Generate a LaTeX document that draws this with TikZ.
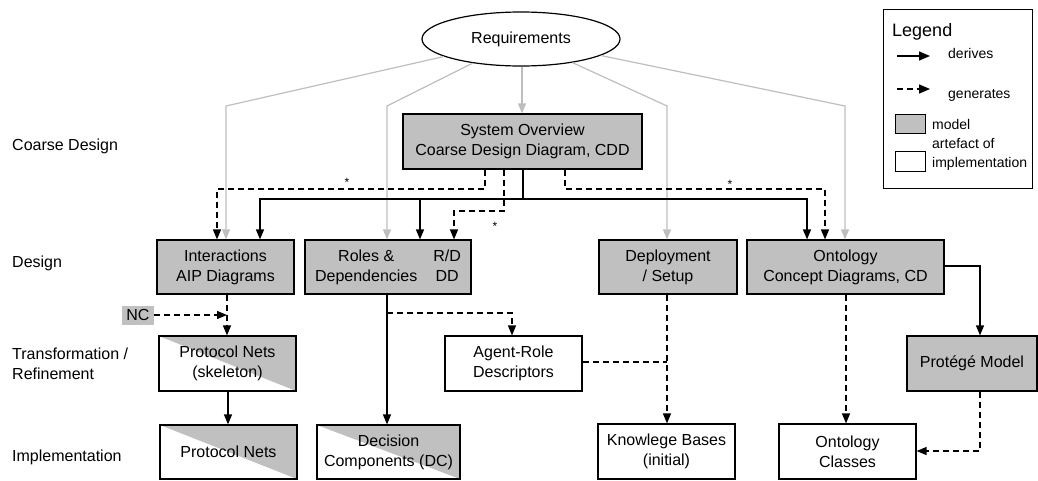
\documentclass[tikz,border=0pt]{standalone}
\usepackage{fontspec}
\setmainfont{Liberation Sans}
\usetikzlibrary{arrows.meta,shapes.geometric}
\definecolor{boxgrey}{RGB}{192,192,192}
\definecolor{linegrey}{RGB}{190,190,190}

\begin{document}
\begin{tikzpicture}[x=1pt,y=-1pt,
  every node/.style={font=\fontsize{16}{20}\selectfont, inner sep=0pt},
  box/.style={draw, line width=1.2pt, align=center},
  model/.style={box, fill=boxgrey},
  artefact/.style={box, fill=white},
  halfbox/.style={box, fill=white,
    path picture={\fill[boxgrey] (path picture bounding box.north west)
      -- (path picture bounding box.north east)
      -- (path picture bounding box.south east) -- cycle;}},
  derive/.style={-{Triangle[width=8pt,length=10pt]}, line width=1.3pt},
  gen/.style={derive, dash pattern=on 6pt off 4pt},
  reqline/.style={-{Triangle[width=8pt,length=10pt]}, line width=1.2pt, draw=linegrey},
  rowlabel/.style={anchor=west, align=left},
  star/.style={font=\fontsize{12}{14}\selectfont},
  legtext/.style={anchor=west, align=left, font=\fontsize{14}{19}\selectfont}
]
\useasboundingbox (0,0) rectangle (1038,480);

% phase labels on the left
\node[rowlabel] (lcoarse) at (12,146) {Coarse Design};
\node[rowlabel] (ldesign) at (12,263) {Design};
\node[rowlabel] (ltrans) at (12,364) {Transformation /\\Refinement};
\node[rowlabel] (limpl) at (12,457) {Implementation};

% requirements and coarse design
\node[draw, line width=1.2pt, ellipse, fill=white, minimum width=198, minimum height=54] (req) at (521,39) {Requirements};
\node[model, minimum width=239, minimum height=55] (sys) at (522.5,141.5) {System Overview\\Coarse Design Diagram, CDD};

% design models
\node[model, minimum width=137, minimum height=54] (inter) at (225.5,267) {Interactions\\AIP Diagrams};
\node[model, minimum width=166, minimum height=54] (roles) at (388,267)
  {\begin{tabular}{@{}c@{\hspace{16pt}}c@{}}Roles \& & R/D\\ Dependencies & DD\end{tabular}};
\node[model, minimum width=138, minimum height=54] (deploy) at (668,267) {Deployment\\/ Setup};
\node[model, minimum width=197, minimum height=54] (onto) at (845.5,267) {Ontology\\Concept Diagrams, CD};

% transformation / refinement
\node[fill=boxgrey, minimum width=32, minimum height=19] (nc) at (138,315) {NC};
\node[halfbox, minimum width=137, minimum height=55] (pnsk) at (227.5,363.5) {Protocol Nets\\(skeleton)};
\node[artefact, minimum width=137, minimum height=55] (agent) at (513.5,363.5) {Agent-Role\\Descriptors};
\node[model, minimum width=130, minimum height=55] (protege) at (972,363.5) {Protégé Model};

% implementation
\node[halfbox, minimum width=137, minimum height=54] (pn) at (228.5,452) {Protocol Nets};
\node[halfbox, minimum width=143, minimum height=54] (dc) at (388.5,452) {Decision\\Components (DC)};
\node[artefact, minimum width=137, minimum height=55] (kb) at (666.5,451.5) {Knowlege Bases\\(initial)};
\node[artefact, minimum width=137, minimum height=55] (oc) at (847.5,451.5) {Ontology\\Classes};

% requirements feed every model
\draw[reqline] (req) -- (226,106) -- (inter.north -| 226,0);
\draw[reqline] (req) -- (387,106) -- (roles.north -| 387,0);
\draw[reqline] (req.south -| 522,0) -- (sys.north -| 522,0);
\draw[reqline] (req) -- (667,106) -- (deploy.north -| 667,0);
\draw[reqline] (req) -- (845,106) -- (onto.north -| 845,0);

% derivations from the system overview
\draw[derive, line width=1.6pt, -] (sys.south -| 523,0) -- (523,199);
\draw[derive] (523,199) -- (260,199) -- (inter.north -| 260,0);
\draw[derive] (420,199) -- (roles.north -| 420,0);
\draw[derive] (523,199) -- (807,199) -- (onto.north -| 807,0);

% generated artefacts from the system overview
\draw[gen] (sys.south -| 485,0) |- (217,189) -- (inter.north -| 217,0);
\draw[gen] (sys.south -| 504,0) |- (454,211) -- (roles.north -| 454,0);
\draw[gen] (sys.south -| 565,0) |- (825,189) -- (onto.north -| 825,0);
\node[star] (s1) at (347,182) {*};
\node[star] (s2) at (495,226) {*};
\node[star] (s3) at (730,184) {*};

% interactions to protocol nets
\coordinate (ncend) at (227,315);
\draw[gen] (nc.east) -- (ncend);
\draw[gen] (inter.south -| 227,0) -- (pnsk.north -| 227,0);
\draw[derive] (pnsk.south -| 228,0) -- (pn.north -| 228,0);

% roles to decision components and descriptors
\coordinate (rbranch) at (387,313);
\draw[derive] (roles.south -| 387,0) -- (dc.north -| 387,0);
\draw[gen] (rbranch) -| (agent.north -| 512,0);

% deployment to knowledge bases
\draw[gen, -] (agent.east |- 0,362) -- (667,362);
\draw[gen] (deploy.south -| 667,0) -- (kb.north -| 667,0);

% ontology
\draw[gen] (onto.south -| 846,0) -- (oc.north -| 846,0);
\draw[derive] (onto.east |- 0,266) -| (protege.north -| 980,0);
\draw[gen] (protege.south -| 980,0) |- (oc.east |- 0,451);

% legend
\node[draw, line width=1pt, minimum width=149, minimum height=179] (legend) at (957.5,98.5) {};
\node[anchor=west, font=\fontsize{18}{22}\selectfont] (legtitle) at (892,32) {Legend};
\coordinate (lda) at (897,56);
\coordinate (ldb) at (930,56);
\draw[derive, -{Triangle[width=9pt,length=11pt]}] (lda) -- (ldb);
\node[legtext] (lderive) at (948,53) {derives};
\coordinate (lga) at (897,89);
\coordinate (lgb) at (930,89);
\draw[gen, -{Triangle[width=9pt,length=11pt]}] (lga) -- (lgb);
\node[legtext] (lgen) at (948,95) {generates};
\node[model, line width=1pt, minimum width=30, minimum height=19] (lmodel) at (910,123.5) {};
\node[legtext] (lmodeltext) at (932,124) {model};
\node[artefact, line width=1pt, minimum width=30, minimum height=20] (lart) at (910,161) {};
\node[legtext] (larttext) at (932,154) {artefact of\\implementation};
\end{tikzpicture}
\end{document}
